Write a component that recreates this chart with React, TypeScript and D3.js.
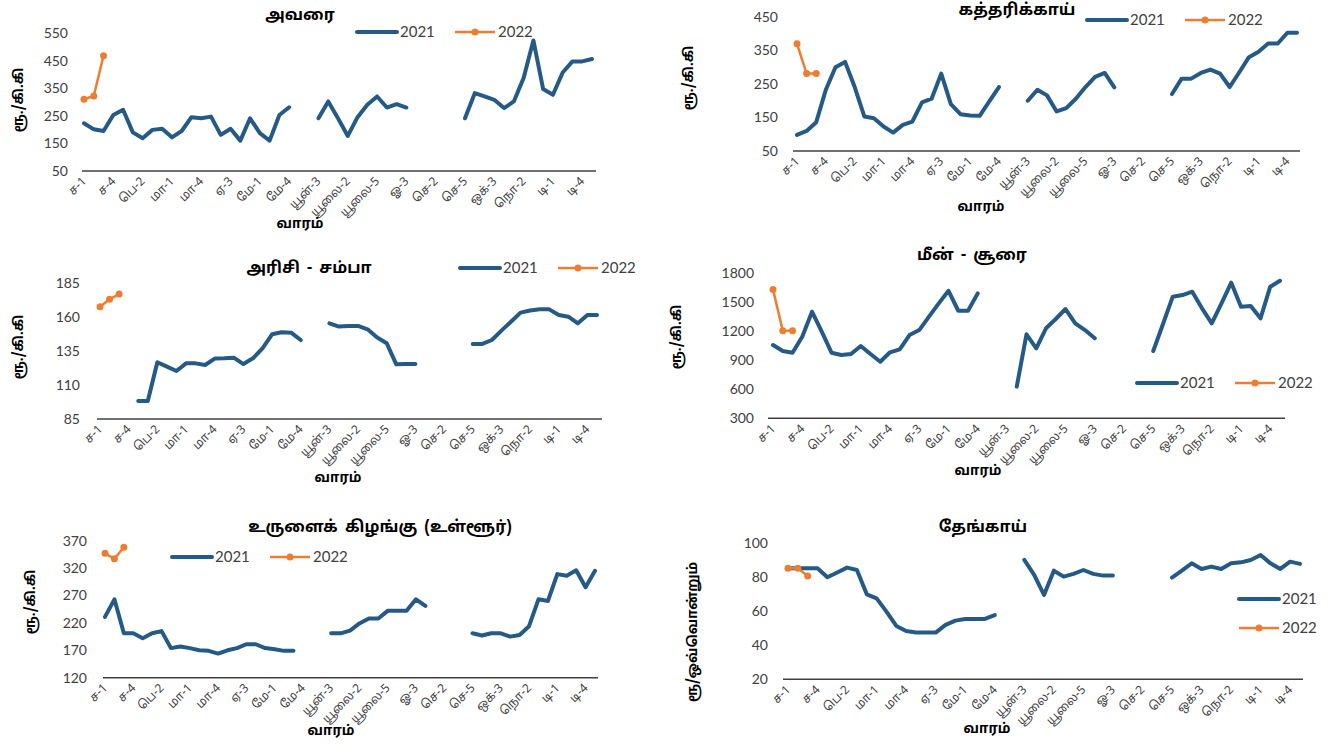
import * as d3 from 'd3'

// week categories (month abbreviation - week number)
const weeks = [
  'ச-1', 'ச-2', 'ச-3', 'ச-4', 'ச-5',
  'பெ-1', 'பெ-2', 'பெ-3', 'பெ-4',
  'மா-1', 'மா-2', 'மா-3', 'மா-4',
  'ஏ-1', 'ஏ-2', 'ஏ-3', 'ஏ-4', 'ஏ-5',
  'மே-1', 'மே-2', 'மே-3', 'மே-4',
  'யூன்-1', 'யூன்-2', 'யூன்-3', 'யூன்-4',
  'யூலை-1', 'யூலை-2', 'யூலை-3', 'யூலை-4', 'யூலை-5',
  'ஓ-1', 'ஓ-2', 'ஓ-3', 'ஓ-4',
  'செ-1', 'செ-2', 'செ-3', 'செ-4', 'செ-5',
  'ஒக்-1', 'ஒக்-2', 'ஒக்-3', 'ஒக்-4',
  'நொ-1', 'நொ-2', 'நொ-3', 'நொ-4',
  'டி-1', 'டி-2', 'டி-3', 'டி-4', 'டி-5',
]

type V = number | null
const _ = null

const avarai2021: V[] = [
  223, 201, 195, 253, 272, 190, 169, 199, 203, 172, 195, 245, 241, 247, 181, 203, 160, 241, 187, 160, 253, 281,
  _, _,
  241, 302, 241, 177, 245, 290, 320, 280, 292, 280,
  _, _, _, _, _,
  241, 332, 320, 308, 278, 302, 387, 523, 347, 326, 407, 447, 447, 456,
]
const avarai2022: V[] = [310, 322, 468]

const brinjal2021: V[] = [
  98, 110, 136, 233, 300, 316, 241, 153, 148, 123, 105, 128, 138, 195, 206, 281, 190, 160, 156, 155, 198, 241,
  _, _,
  200, 233, 216, 168, 178, 206, 241, 271, 283, 240,
  _, _, _, _, _,
  220, 266, 266, 283, 293, 281, 241, 285, 330, 346, 371, 371, 403, 403,
]
const brinjal2022: V[] = [370, 281, 281]

const rice2021: V[] = [
  _, _, _, _,
  98.3, 98.3, 126.8, 123.6, 120.4, 126, 126, 124.8, 129.5, 129.7, 130.2, 125.5, 129.7, 137.1, 147.4, 148.9, 148.6, 143.2,
  _, _,
  155.5, 153.1, 153.6, 153.6, 151.1, 145, 140.8, 125.3, 125.5, 125.5,
  _, _, _, _, _,
  140.3, 140.3, 143.2, 150.1, 156.7, 163.4, 164.9, 165.8, 165.8, 161.7, 160.4, 155.5, 161.7, 161.7,
]
const rice2022: V[] = [167.8, 173.2, 177.1]

const fish2021: V[] = [
  1055, 993, 976, 1141, 1398, 1192, 976, 952, 962, 1045, 962, 883, 980, 1010, 1158, 1209, 1347, 1484, 1614, 1408, 1408, 1587,
  _, _, _,
  626, 1165, 1021, 1227, 1323, 1426, 1278, 1209, 1124,
  _, _, _, _, _,
  993, 1271, 1553, 1570, 1604, 1433, 1278, 1484, 1697, 1450, 1457, 1330, 1656, 1717,
]
const fish2022: V[] = [1628, 1203, 1203]

const potato2021: V[] = [
  231, 263, 201, 201, 192, 201, 205, 174, 177, 174, 170, 169, 164, 170, 174, 181, 181, 174, 172, 169, 169,
  _, _, _,
  201, 201, 206, 219, 228, 228, 242, 242, 242, 263, 251,
  _, _, _, _,
  201, 197, 201, 201, 195, 198, 214, 263, 260, 309, 306, 316, 285, 315,
]
const potato2022: V[] = [347, 337, 358]

const coconut2021: V[] = [
  85.3, 85.3, 85.3, 85.3, 80, 82.8, 85.7, 84.3, 70, 67.6, 59.8, 51.4, 48.4, 47.5, 47.5, 47.5, 52, 54.5, 55.5, 55.5, 55.5, 57.8,
  _, _,
  90.2, 81.4, 69.6, 83.9, 80.4, 82, 84.3, 82, 81, 81,
  _, _, _, _, _,
  79.8, 83.9, 88.2, 84.9, 86.3, 84.9, 88.2, 88.8, 90.2, 93.1, 88.2, 84.9, 89.2, 87.9,
]
const coconut2022: V[] = [85.3, 85.3, 80.8]

const BLUE = '#255a87'
const ORANGE = '#ed7d31'
const NUM_FONT = "Lato, 'Open Sans', sans-serif"
const TAMIL_FONT = "'Noto Sans Tamil', 'Noto Sans Tamil UI', 'Lohit Tamil', 'Noto Serif Tamil', FreeSans, 'Noto Sans', sans-serif"

interface Panel {
  title: string
  yLabel: string
  s2021: V[]
  s2022: V[]
  yDomain: [number, number]
  yStep: number
  // layout
  x0: number; x1: number; axL: number; axR: number
  yTop: number; yBot: number
  tickX: number
  titleX: number; titleY: number
  legX: number; legY: number; legVertical?: boolean
  yLabX: number; yLabY: number
  xTitleX: number; xTitleY: number
}

const panels: Panel[] = [
  {
    title: 'அவரை', yLabel: 'ரூ./கி.கி', s2021: avarai2021, s2022: avarai2022,
    yDomain: [50, 550], yStep: 100,
    x0: 84, x1: 592, axL: 82, axR: 596, yTop: 33, yBot: 171, tickX: 68,
    titleX: 300, titleY: 20, legX: 357, legY: 32,
    yLabX: 18, yLabY: 100, xTitleX: 300, xTitleY: 228,
  },
  {
    title: 'கத்தரிக்காய்', yLabel: 'ரூ./கி.கி', s2021: brinjal2021, s2022: brinjal2022,
    yDomain: [50, 450], yStep: 100,
    x0: 797, x1: 1297, axL: 793, axR: 1300, yTop: 17, yBot: 151, tickX: 778,
    titleX: 1017, titleY: 15, legX: 1087, legY: 20,
    yLabX: 688, yLabY: 78, xTitleX: 981, xTitleY: 211,
  },
  {
    title: 'அரிசி  -  சம்பா', yLabel: 'ரூ./கி.கி', s2021: rice2021, s2022: rice2022,
    yDomain: [85, 185], yStep: 25,
    x0: 100, x1: 597, axL: 97, axR: 602, yTop: 283.3, yBot: 419, tickX: 80,
    titleX: 309, titleY: 273, legX: 460, legY: 268,
    yLabX: 18, yLabY: 347, xTitleX: 338, xTitleY: 482,
  },
  {
    title: 'மீன்  -  சூரை', yLabel: 'ரூ./கி.கி', s2021: fish2021, s2022: fish2022,
    yDomain: [300, 1800], yStep: 300,
    x0: 773, x1: 1280, axL: 768, axR: 1285, yTop: 272.7, yBot: 418.3, tickX: 754,
    titleX: 972, titleY: 260, legX: 1137, legY: 383,
    yLabX: 676, yLabY: 337, xTitleX: 978, xTitleY: 475,
  },
  {
    title: 'உருளைக்  கிழங்கு  (உள்ளூர்)', yLabel: 'ரூ./கி.கி', s2021: potato2021, s2022: potato2022,
    yDomain: [120, 370], yStep: 50,
    x0: 105, x1: 595, axL: 103, axR: 598, yTop: 540.7, yBot: 677.7, tickX: 87,
    titleX: 380, titleY: 532, legX: 172, legY: 557,
    yLabX: 30, yLabY: 602, xTitleX: 331, xTitleY: 735,
  },
  {
    title: 'தேங்காய்', yLabel: 'ரூ/ஒவ்வொன்றும்', s2021: coconut2021, s2022: coconut2022,
    yDomain: [20, 100], yStep: 20,
    x0: 788, x1: 1300, axL: 783, axR: 1303, yTop: 543.3, yBot: 679.3, tickX: 768,
    titleX: 983, titleY: 532, legX: 1239, legY: 599, legVertical: true,
    yLabX: 692, yLabY: 632, xTitleX: 987, xTitleY: 733,
  },
]

function LineChart({ p }: { p: Panel }) {
  const x = d3.scalePoint<string>().domain(weeks).range([p.x0, p.x1])
  const y = d3.scaleLinear().domain(p.yDomain).range([p.yBot, p.yTop])
  const ticks = d3.range(p.yDomain[0], p.yDomain[1] + 0.001, p.yStep)

  const line = d3
    .line<V>()
    .defined((d) => d !== null)
    .x((_d, i) => x(weeks[i]) ?? 0)
    .y((d) => y(d as number))

  const l21 = line(p.s2021) || ''
  const l22 = line(p.s2022) || ''

  const leg2 = p.legVertical ? { x: p.legX, y: p.legY + 29 } : { x: p.legX + 98, y: p.legY }

  return (
    <g>
      <text x={p.titleX} y={p.titleY} textAnchor="middle" fontSize={16} fontWeight="bold" fill="#000"
        wordSpacing={3}>
        {p.title}
      </text>

      {ticks.map((t) => (
        <text key={t} x={p.tickX} y={y(t)} dy="0.35em" textAnchor="end" fontSize={14} fill="#404040"
          fontFamily={NUM_FONT}>
          {t}
        </text>
      ))}

      <line x1={p.axL} x2={p.axR} y1={p.yBot} y2={p.yBot} stroke="#404040" strokeWidth={1.5} />

      {weeks.map((w, i) =>
        i % 3 === 0 ? (
          <text key={w} transform={`translate(${(x(w) ?? 0) + 3},${p.yBot + 11}) rotate(-45)`}
            textAnchor="end" fontSize={12} fill="#404040">
            {w}
          </text>
        ) : null
      )}

      <text transform={`translate(${p.yLabX},${p.yLabY}) rotate(-90)`} textAnchor="middle" dy="0.35em"
        fontSize={13.5} fontWeight="bold" fill="#000">
        {p.yLabel}
      </text>
      <text x={p.xTitleX} y={p.xTitleY} textAnchor="middle" fontSize={13.5} fontWeight="bold" fill="#000">
        வாரம்
      </text>

      <path d={l21} fill="none" stroke={BLUE} strokeWidth={4} strokeLinejoin="round" strokeLinecap="round" />
      <path d={l22} fill="none" stroke={ORANGE} strokeWidth={2.5} strokeLinejoin="round" />
      {p.s2022.map((d, i) =>
        d === null ? null : <circle key={i} cx={x(weeks[i])} cy={y(d)} r={3.5} fill={ORANGE} />
      )}

      <g>
        <line x1={p.legX} x2={p.legX + 40} y1={p.legY} y2={p.legY} stroke={BLUE} strokeWidth={4} strokeLinecap="round" />
        <text x={p.legX + 43} y={p.legY} dy="0.35em" fontSize={15} fill="#404040" fontFamily={NUM_FONT}>2021</text>
        <line x1={leg2.x} x2={leg2.x + 40} y1={leg2.y} y2={leg2.y} stroke={ORANGE} strokeWidth={2.5} />
        <circle cx={leg2.x + 20} cy={leg2.y} r={3.5} fill={ORANGE} />
        <text x={leg2.x + 43} y={leg2.y} dy="0.35em" fontSize={15} fill="#404040" fontFamily={NUM_FONT}>2022</text>
      </g>
    </g>
  )
}

export default function App() {
  return (
    <svg width={1333} height={746} style={{ position: 'absolute', left: 0, top: 0, background: '#fff' }}
      fontFamily={TAMIL_FONT}>
      {panels.map((p) => (
        <LineChart key={p.title} p={p} />
      ))}
    </svg>
  )
}
